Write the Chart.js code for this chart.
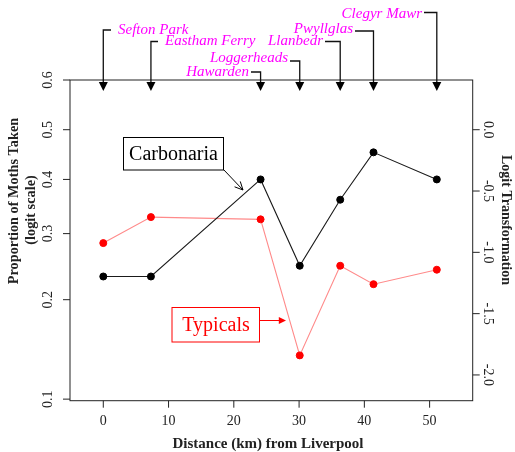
<!DOCTYPE html>
<html>
<head>
<meta charset="utf-8">
<script src="https://cdn.jsdelivr.net/npm/chart.js@4/dist/chart.umd.min.js"></script>
<style>
  html, body { margin: 0; padding: 0; background: #fff; }
</style>
</head>
<body>
<canvas id="chart" width="515" height="452"></canvas>
<script>
// data
const sites = ['Sefton Park', 'Eastham Ferry', 'Hawarden', 'Loggerheads', 'Llanbedr', 'Pwyllglas', 'Clegyr Mawr'];
const distances = [0, 7.3, 24.1, 30.1, 36.3, 41.4, 51.1];
const carbonaria = [0.232, 0.232, 0.400, 0.248, 0.361, 0.454, 0.400];
const typicals = [0.284, 0.329, 0.325, 0.137, 0.248, 0.221, 0.242];
const xTicks = [0, 10, 20, 30, 40, 50];
const propTicks = [0.1, 0.2, 0.3, 0.4, 0.5, 0.6];
const logitTicks = [0.0, -0.5, -1.0, -1.5, -2.0];

// where the site labels sit (text anchor, elbow height)
const siteLabelLayout = [
    { lineY: 30, textX: 118, align: 'left' },
    { lineY: 41.5, textX: 165, align: 'left' },
    { lineY: 72, textX: 249, align: 'right' },
    { lineY: 61, textX: 288, align: 'right', textY: 58 },
    { lineY: 41.5, textX: 323, align: 'right' },
    { lineY: 31, textX: 353, align: 'right', textY: 29 },
    { lineY: 12.5, textX: 422, align: 'right', textY: 14 }
];

const logit = p => Math.log(p / (1 - p));
const serif = '"Liberation Serif", "DejaVu Serif", serif';

function rotText(ctx, txt, x, y, ang) {
    ctx.save();
    ctx.translate(x, y);
    ctx.rotate(ang);
    ctx.textAlign = 'center';
    ctx.textBaseline = 'middle';
    ctx.fillText(txt, 0, 0);
    ctx.restore();
}

function arrowHead(ctx, x0, y0, x1, y1, len, filled) {
    const a = Math.atan2(y1 - y0, x1 - x0);
    const w = 0.45;
    ctx.beginPath();
    ctx.moveTo(x1 - len * Math.cos(a - w), y1 - len * Math.sin(a - w));
    ctx.lineTo(x1, y1);
    ctx.lineTo(x1 - len * Math.cos(a + w), y1 - len * Math.sin(a + w));
    if (filled) { ctx.closePath(); ctx.fill(); } else ctx.stroke();
}

const decor = {
    id: 'decor',
    afterDraw(chart) {
        const ctx = chart.ctx;
        const area = chart.chartArea;
        const xs = chart.scales.x, ys = chart.scales.y;
        ctx.save();
        ctx.strokeStyle = '#222';
        ctx.fillStyle = '#222';
        ctx.lineWidth = 1;

        // box
        ctx.strokeRect(area.left, area.top, area.right - area.left, area.bottom - area.top);

        // bottom axis
        ctx.font = '14px ' + serif;
        xTicks.forEach(t => {
            const x = xs.getPixelForValue(t);
            ctx.beginPath();
            ctx.moveTo(x, area.bottom);
            ctx.lineTo(x, area.bottom + 7);
            ctx.stroke();
            ctx.textAlign = 'center';
            ctx.textBaseline = 'middle';
            ctx.fillText(String(t), x, 421);
        });
        ctx.font = 'bold 15px ' + serif;
        ctx.fillText('Distance (km) from Liverpool', 268, 444);

        // left axis: proportions on logit scale
        ctx.font = '14px ' + serif;
        propTicks.forEach(p => {
            const y = ys.getPixelForValue(logit(p));
            ctx.beginPath();
            ctx.moveTo(area.left, y);
            ctx.lineTo(area.left - 7, y);
            ctx.stroke();
            rotText(ctx, p.toFixed(1), 48.5, y, -Math.PI / 2);
        });
        ctx.font = 'bold 14.3px ' + serif;
        rotText(ctx, 'Proportion of Moths Taken', 14, 201, -Math.PI / 2);
        rotText(ctx, '(logit scale)', 31, 210, -Math.PI / 2);

        // right axis: logit values
        ctx.font = '14px ' + serif;
        logitTicks.forEach(v => {
            const y = ys.getPixelForValue(v);
            ctx.beginPath();
            ctx.moveTo(area.right, y);
            ctx.lineTo(area.right + 7, y);
            ctx.stroke();
            rotText(ctx, v.toFixed(1), 488, y, Math.PI / 2);
        });
        ctx.font = 'bold 14px ' + serif;
        rotText(ctx, 'Logit Transformation', 506, 220, Math.PI / 2);

        // site labels with elbow arrows
        ctx.lineWidth = 1.3;
        sites.forEach((name, i) => {
            const L = siteLabelLayout[i];
            const ax = xs.getPixelForValue(distances[i]);
            const startX = L.align === 'left' ? L.textX - 7 : L.textX + 2;
            ctx.strokeStyle = '#111';
            ctx.beginPath();
            ctx.moveTo(startX, L.lineY);
            ctx.lineTo(ax, L.lineY);
            ctx.lineTo(ax, 84);
            ctx.stroke();
            ctx.fillStyle = '#000';
            ctx.beginPath();
            ctx.moveTo(ax - 4.5, 82);
            ctx.lineTo(ax + 4.5, 82);
            ctx.lineTo(ax, 91);
            ctx.closePath();
            ctx.fill();
            ctx.fillStyle = '#ff00ff';
            ctx.font = 'italic 15px ' + serif;
            ctx.textAlign = L.align;
            ctx.textBaseline = 'middle';
            ctx.fillText(name, L.textX, L.textY !== undefined ? L.textY : L.lineY);
        });

        // Carbonaria callout
        ctx.lineWidth = 1;
        ctx.strokeStyle = '#000';
        ctx.fillStyle = '#fff';
        ctx.fillRect(123.5, 137.5, 100, 32.5);
        ctx.strokeRect(123.5, 137.5, 100, 32.5);
        ctx.fillStyle = '#000';
        ctx.font = '20px ' + serif;
        ctx.textAlign = 'center';
        ctx.textBaseline = 'middle';
        ctx.fillText('Carbonaria', 173.5, 154.5);
        ctx.beginPath();
        ctx.moveTo(223.5, 169.5);
        ctx.lineTo(243, 190);
        ctx.stroke();
        arrowHead(ctx, 223.5, 169.5, 243, 190, 9, false);

        // Typicals callout
        ctx.strokeStyle = '#ff0000';
        ctx.fillStyle = '#fff';
        ctx.fillRect(172, 307.5, 87.5, 34.5);
        ctx.strokeRect(172, 307.5, 87.5, 34.5);
        ctx.fillStyle = '#ff0000';
        ctx.fillText('Typicals', 216, 325.5);
        ctx.beginPath();
        ctx.moveTo(259.5, 320.5);
        ctx.lineTo(280, 320.5);
        ctx.stroke();
        arrowHead(ctx, 259.5, 320.5, 286, 320.5, 8, true);

        ctx.restore();
    }
};

const toPoints = vals => distances.map((d, i) => ({ x: d, y: logit(vals[i]) }));

new Chart(document.getElementById('chart').getContext('2d'), {
    type: 'line',
    data: {
        datasets: [
            {
                label: 'Carbonaria',
                data: toPoints(carbonaria),
                borderColor: '#1a1a1a',
                borderWidth: 1.1,
                pointBackgroundColor: '#000',
                pointBorderColor: '#000',
                pointBorderWidth: 1,
                pointRadius: 3.5,
                tension: 0
            },
            {
                label: 'Typicals',
                data: toPoints(typicals),
                borderColor: '#ff8a8a',
                borderWidth: 1.1,
                pointBackgroundColor: '#ff0000',
                pointBorderColor: '#ff0000',
                pointBorderWidth: 1,
                pointRadius: 3.5,
                tension: 0
            }
        ]
    },
    options: {
        responsive: false,
        animation: false,
        layout: { padding: { left: 70, top: 80, right: 42.3, bottom: 51.3 } },
        plugins: { legend: { display: false }, tooltip: { enabled: false } },
        scales: {
            x: { type: 'linear', min: -5.1, max: 56.6, display: false },
            y: { type: 'linear', min: -2.21, max: logit(0.6), display: false }
        }
    },
    plugins: [decor]
});
</script>
</body>
</html>
